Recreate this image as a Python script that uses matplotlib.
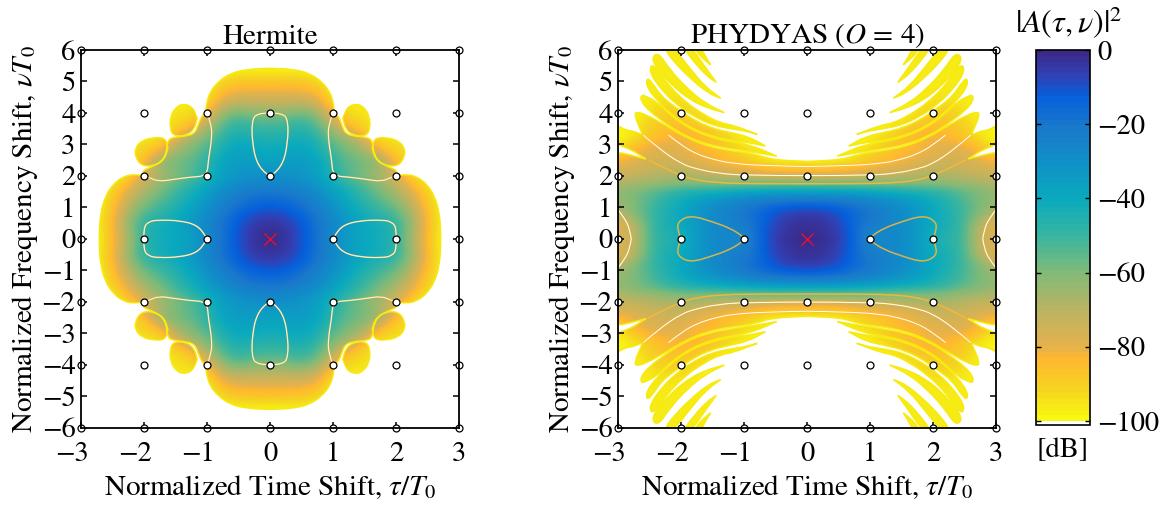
import numpy as np
import matplotlib
matplotlib.use('Agg')
import matplotlib.pyplot as plt
from matplotlib.colors import LinearSegmentedColormap, Normalize
from matplotlib.cm import ScalarMappable
from matplotlib.path import Path
from matplotlib.patches import PathPatch
from matplotlib.transforms import ScaledTranslation

plt.rcParams['font.family'] = ['STIXGeneral', 'DejaVu Sans']
plt.rcParams['mathtext.fontset'] = 'stix'

# colour scale
cmap_db = [0, -6, -12, -20, -30, -40, -50, -60, -70, -80, -84, -92, -100]
cmap_rgb = ['#3b2a8a', '#3240b4', '#0560dc', '#1a78cc', '#1090c8', '#0aaabe', '#38b5a0',
            '#80ba78', '#b8b464', '#e4b24c', '#ffb830', '#f5d420', '#f8f810']

# dB values for one quadrant, rows nu = 0, 0.25 ... 6, columns tau = 0, 0.25 ... 3
hermite_q = [
    [0, -3, -10, -18, -28, -36, -40, -42, -48, -66, -85, -100, -100],
    [-1, -3, -10, -18, -27, -35, -39, -42, -47, -65, -85, -100, -100],
    [-3, -5, -11, -19, -26, -34, -40, -43, -48, -64, -84, -100, -100],
    [-6, -8, -13, -20, -28, -36, -42, -47, -52, -66, -85, -100, -100],
    [-11, -13, -17, -23, -30, -38, -45, -51, -57, -70, -87, -100, -100],
    [-15, -16, -20, -26, -33, -41, -48, -55, -62, -74, -89, -100, -100],
    [-20, -21, -24, -29, -36, -43, -51, -59, -67, -78, -92, -100, -100],
    [-25, -26, -28, -33, -40, -48, -55, -63, -72, -84, -96, -100, -100],
    [-30, -30, -32, -36, -45, -54, -60, -67, -76, -92, -100, -100, -100],
    [-34, -33, -33, -37, -46, -55, -59, -66, -80, -96, -100, -100, -100],
    [-38, -36, -35, -38, -48, -56, -59, -66, -86, -94, -100, -100, -100],
    [-40, -38, -37, -41, -51, -59, -64, -78, -92, -94, -100, -100, -100],
    [-43, -41, -39, -44, -55, -62, -70, -92, -92, -96, -100, -100, -100],
    [-46, -45, -42, -48, -60, -68, -82, -94, -96, -100, -100, -100, -100],
    [-50, -49, -46, -52, -66, -80, -92, -96, -100, -100, -100, -100, -100],
    [-55, -54, -50, -57, -73, -92, -92, -100, -100, -100, -100, -100, -100],
    [-62, -62, -58, -64, -84, -94, -94, -100, -100, -100, -100, -100, -100],
    [-70, -70, -68, -73, -90, -96, -98, -100, -100, -100, -100, -100, -100],
    [-76, -76, -76, -80, -96, -100, -100, -100, -100, -100, -100, -100, -100],
    [-82, -83, -83, -86, -98, -100, -100, -100, -100, -100, -100, -100, -100],
    [-88, -88, -88, -92, -100, -100, -100, -100, -100, -100, -100, -100, -100],
    [-95, -95, -95, -98, -100, -100, -100, -100, -100, -100, -100, -100, -100],
    [-100, -100, -100, -100, -100, -100, -100, -100, -100, -100, -100, -100, -100],
    [-100, -100, -100, -100, -100, -100, -100, -100, -100, -100, -100, -100, -100],
    [-100, -100, -100, -100, -100, -100, -100, -100, -100, -100, -100, -100, -100],
]
phydyas_q = [
    [0, -1, -5, -14, -28, -26, -28, -34, -44, -46, -52, -74, -78],
    [-1, -2, -6, -14, -25, -25, -28, -34, -42, -45, -52, -73, -78],
    [-2, -3, -7, -15, -22, -24, -28, -34, -40, -44, -52, -70, -80],
    [-4, -5, -9, -15, -20, -24, -28, -33, -40, -44, -52, -62, -74],
    [-10, -11, -13, -17, -21, -25, -29, -34, -40, -45, -52, -60, -66],
    [-20, -21, -22, -24, -27, -30, -33, -37, -42, -47, -54, -60, -64],
    [-36, -36, -36, -37, -38, -40, -42, -44, -47, -51, -56, -60, -64],
    [-56, -56, -56, -57, -58, -59, -60, -60, -60, -62, -64, -66, -68],
    [-76, -76, -76, -74, -72, -72, -70, -68, -66, -68, -70, -72, -74],
    [-88, -88, -87, -85, -82, -80, -78, -76, -72, -72, -74, -76, -78],
    [-98, -98, -97, -94, -88, -86, -82, -80, -76, -76, -76, -80, -84],
    [-100, -100, -100, -96, -92, -88, -84, -82, -80, -78, -78, -84, -92],
    [-100, -100, -100, -98, -96, -90, -86, -84, -80, -80, -82, -88, -98],
    [-100, -100, -100, -100, -98, -92, -88, -84, -82, -84, -88, -96, -100],
    [-100, -100, -100, -100, -100, -96, -90, -86, -84, -86, -90, -96, -100],
    [-100, -100, -100, -100, -100, -100, -96, -90, -88, -88, -92, -98, -100],
    [-100, -100, -100, -100, -100, -100, -98, -94, -90, -90, -94, -100, -100],
    [-100, -100, -100, -100, -100, -100, -100, -96, -93, -93, -96, -100, -100],
    [-100, -100, -100, -100, -100, -100, -100, -98, -95, -95, -97, -100, -100],
    [-100, -100, -100, -100, -100, -100, -97, -97, -97, -97, -97, -97, -100],
    [-100, -100, -100, -100, -100, -100, -97, -97, -97, -97, -97, -97, -100],
    [-100, -100, -100, -100, -100, -100, -97, -97, -97, -97, -97, -97, -100],
    [-100, -100, -100, -100, -100, -100, -97, -97, -97, -97, -97, -97, -100],
    [-100, -100, -100, -100, -100, -100, -97, -97, -97, -97, -97, -97, -100],
    [-100, -100, -100, -100, -100, -100, -97, -97, -97, -97, -97, -97, -100],
]

# outlines of the coloured area, upper left quadrant, (tau, nu)
hermite_body = [(0, 5.42), (-0.37, 5.39), (-0.63, 5.26), (-0.82, 5.0), (-0.95, 4.68), (-1.01, 4.31), (-1.02, 4.0),
                (-1.09, 3.89), (-1.14, 3.62), (-1.2, 3.33), (-1.38, 3.25), (-1.58, 3.22), (-1.63, 3.05), (-1.65, 2.72),
                (-1.72, 2.46), (-1.87, 2.29), (-2.03, 2.17), (-1.98, 2.0), (-2.17, 2.05), (-2.33, 1.98), (-2.49, 1.74),
                (-2.62, 1.34), (-2.69, 0.81), (-2.71, 0.28), (-2.71, 0)]
hermite_islands = [
    [(-1.376, 4.3), (-1.225, 4.19), (-1.155, 3.83), (-1.2, 3.48), (-1.32, 3.29), (-1.525, 3.26),
     (-1.59, 3.5), (-1.58, 3.91), (-1.49, 4.19)],
    [(-1.85, 3.22), (-1.66, 3.21), (-1.62, 2.88), (-1.67, 2.53), (-1.82, 2.33), (-2.03, 2.3),
     (-2.14, 2.6), (-2.14, 2.9), (-2.03, 3.13)],
]
phydyas_body = [(0, 2.46), (-0.56, 2.51), (-0.826, 2.7), (-1.196, 2.795), (-1.567, 2.93), (-1.937, 3.23), (-2.254, 3.62),
                (-2.545, 3.94), (-2.72, 4.045), (-2.73, 3.89), (-2.667, 3.57), (-2.6, 3.28), (-2.73, 3.41), (-2.89, 3.46),
                (-2.995, 3.59), (-3.07, 3.62), (-3.07, 3.04), (-2.78, 2.83), (-2.625, 2.615), (-2.52, 2.51), (-2.84, 2.69),
                (-3.07, 2.77), (-3.07, 0)]
phydyas_stripes = [
    [(-1.78, 6.06), (-1.68, 6.06), (-1.61, 5.79), (-1.53, 5.53), (-1.63, 5.69), (-1.72, 5.87)],
    [(-1.96, 6.06), (-1.82, 6.06), (-1.66, 5.58), (-1.44, 4.97), (-1.61, 5.21), (-1.8, 5.64)],
    [(-2.27, 6.06), (-2.11, 6.06), (-1.86, 5.42), (-1.62, 4.84), (-1.37, 4.47), (-1.57, 4.63), (-1.86, 5.11), (-2.12, 5.64)],
    [(-2.36, 5.93), (-2.175, 5.37), (-1.91, 4.79), (-1.62, 4.31), (-1.31, 4.01), (-1.57, 4.15), (-1.86, 4.42),
     (-2.15, 4.89), (-2.36, 5.37), (-2.47, 5.74)],
    [(-2.48, 5.53), (-2.39, 5.44), (-2.23, 4.95), (-1.94, 4.36), (-1.62, 3.92), (-1.355, 3.67), (-1.17, 3.61), (-0.79, 3.32),
     (-0.98, 3.43), (-1.25, 3.51), (-1.51, 3.62), (-1.8, 3.89), (-2.1, 4.31), (-2.33, 4.79), (-2.49, 5.26)],
    [(-2.545, 5.11), (-2.47, 5.0), (-2.31, 4.52), (-2.1, 4.2), (-1.8, 3.78), (-1.51, 3.52), (-1.25, 3.39), (-0.93, 3.25),
     (-0.66, 2.95), (-0.93, 3.06), (-1.25, 3.14), (-1.57, 3.3), (-1.89, 3.57), (-2.175, 3.99), (-2.39, 4.42), (-2.545, 4.84)],
    [(-2.635, 4.58), (-2.545, 4.52), (-2.39, 4.36), (-2.175, 3.94), (-1.885, 3.52), (-1.57, 3.25), (-1.25, 3.09), (-0.93, 3.01),
     (-0.48, 2.63), (-0.83, 2.75), (-1.2, 2.86), (-1.57, 2.99), (-1.94, 3.28), (-2.25, 3.67), (-2.49, 4.04), (-2.635, 4.36)],
]

# null curves inside the coloured area
hermite_nulls = [
    [(-1.0, 4.0), (-0.926, 3.62), (-0.926, 3.14), (-0.979, 2.5), (-1.0, 2.0), (-1.27, 1.96), (-1.53, 1.89), (-1.77, 1.82), (-1.93, 1.96), (-2.0, 2.0)],
    [(0, 4.0), (-0.21, 4.0), (-0.29, 3.73), (-0.28, 3.04), (-0.21, 2.4), (-0.05, 2.03), (0, 2.0)],
    [(-2.0, 0), (-2.01, 0.34), (-1.93, 0.55), (-1.77, 0.6), (-1.43, 0.58), (-1.16, 0.44), (-1.03, 0.12), (-1.0, 0)],
]
phydyas_nulls = [
    [(-2.2, 3.3), (-1.99, 2.96), (-1.725, 2.67), (-1.46, 2.51), (-1.196, 2.4), (-0.667, 2.32), (0, 2.3)],
    [(-2.6, 3.3), (-2.36, 2.88), (-1.99, 2.37), (-1.725, 2.21), (-1.46, 2.1), (-1.01, 2.01), (0, 2.01)],
    [(-2.52, 2.51), (-2.25, 2.24), (-2.0, 2.01), (-1.725, 1.85), (-1.355, 1.78), (-0.93, 1.75), (0, 1.75)],
    [(-2.0, 0), (-2.07, 0.34), (-2.02, 0.6), (-1.83, 0.74), (-1.51, 0.55), (-1.22, 0.34), (-1.01, 0.07), (-1.0, 0)],
    [(-3.0, 0.92), (-2.89, 0.65), (-2.81, 0.28), (-2.79, 0)],
]
hermite_null_core = [0.85, 0.85, 0.85]
phydyas_null_core = [1.0, 1.0, 0.0, 0.0, 1.0]

tau_lattice = [-3, -2, -1, 0, 1, 2, 3]
nu_lattice = [-6, -4, -2, 0, 2, 4, 6]
xticks = [-3, -2, -1, 0, 1, 2, 3]
yticks = [-6, -5, -4, -3, -2, -1, 0, 1, 2, 3, 4, 5, 6]
cbar_ticks = [0, -20, -40, -60, -80, -100]


def mirror_grid(q):
    q = np.array(q, dtype=float)
    full = np.vstack([q[:0:-1], q])
    return np.hstack([full[:, :0:-1], full])


def closed_smooth(pts):
    # closed quadratic spline through the midpoints
    pts = np.array(pts, dtype=float)
    n = len(pts)
    verts = [(pts[-1] + pts[0]) / 2]
    codes = [Path.MOVETO]
    for i in range(n):
        verts += [pts[i], (pts[i] + pts[(i + 1) % n]) / 2]
        codes += [Path.CURVE3, Path.CURVE3]
    return Path(verts, codes)


def open_smooth(pts):
    pts = np.array(pts, dtype=float)
    verts = [pts[0]]
    codes = [Path.MOVETO]
    for i in range(1, len(pts) - 1):
        end = (pts[i] + pts[i + 1]) / 2 if i < len(pts) - 2 else pts[i + 1]
        verts += [pts[i], end]
        codes += [Path.CURVE3, Path.CURVE3]
    return Path(verts, codes)


def body_loop(q2):
    # one quadrant outline -> whole closed outline
    a = [(t, n) for t, n in q2]
    b = [(t, -n) for t, n in q2[::-1]]
    c = [(-t, -n) for t, n in q2]
    d = [(-t, n) for t, n in q2[::-1]]
    return a + b + c + d


def four_copies(pts):
    return [[(st * t, sn * n) for t, n in pts] for st in (1, -1) for sn in (1, -1)]


def sharp_tip(pts):
    # repeat the point nearest tau = 0 so the spline keeps the pointed end
    k = int(np.argmin([abs(t) for t, n in pts]))
    return pts[:k + 1] + [pts[k]] + pts[k + 1:]


def draw_panel(ax, grid_q, body, pieces, nulls, core_alpha, edge_lw):
    im = ax.imshow(mirror_grid(grid_q), extent=[-3.125, 3.125, -6.125, 6.125], origin='lower', aspect='auto',
                   cmap=cmap_img, norm=norm, interpolation='bicubic', interpolation_stage='data', zorder=1)
    paths = [closed_smooth(body_loop(body))]
    for p in pieces:
        paths += [closed_smooth(sharp_tip(c)) for c in four_copies(p)]
    shape = Path.make_compound_path(*paths)
    im.set_clip_path(PathPatch(shape, transform=ax.transData))
    ax.add_patch(PathPatch(shape, fc='none', ec='#f6ea10', lw=edge_lw, zorder=1.2))
    for curve, a in zip(nulls, core_alpha):
        for c in four_copies(curve):
            ax.add_patch(PathPatch(open_smooth(c), fc='none', ec='#fdb933', lw=1.1, alpha=0.85, zorder=1.4))
            if a > 0:
                ax.add_patch(PathPatch(open_smooth(c), fc='none', ec='white', lw=0.7, alpha=a, zorder=1.5))
    tt, nn = np.meshgrid(tau_lattice, nu_lattice)
    keep = (tt != 0) | (nn != 0)
    ax.plot(tt[keep], nn[keep], ls='none', marker='o', ms=5, mfc='white', mec='black', mew=0.9,
            clip_on=False, zorder=2.4)
    ax.plot([0], [0], ls='none', marker='x', ms=8, mec='#e8102a', mew=1.0, zorder=3)
    ax.set_xlim(-3, 3)
    ax.set_ylim(-6, 6)
    ax.set_xticks(xticks)
    ax.set_yticks(yticks)
    ax.tick_params(direction='in', top=True, right=True, length=4, width=1.1, labelsize=20.5)
    ax.tick_params(axis='x', pad=10)
    ax.tick_params(axis='y', pad=4)
    # the digit, not the minus sign, sits under the tick
    shift = ScaledTranslation(-6.5 / 72, 0, fig.dpi_scale_trans)
    for val, lab in zip(xticks, ax.get_xticklabels()):
        if val < 0:
            lab.set_transform(lab.get_transform() + shift)
    for s in ax.spines.values():
        s.set_linewidth(1.3)
    ax.set_xlabel(r'Normalized Time Shift, $\tau/T_0$', fontsize=21, labelpad=5)
    ax.set_ylabel(r'Normalized Frequency Shift, $\nu T_0$', fontsize=21, labelpad=1)


stops = list(zip([(100 + d) / 100 for d in cmap_db[::-1]], cmap_rgb[::-1]))
cmap_img = LinearSegmentedColormap.from_list('db', stops, N=256)
cmap_bar = LinearSegmentedColormap.from_list('db64', stops, N=64)
cmap_bar.set_under('white')
norm = Normalize(-100, 0)

W, H = 1166, 511
fig = plt.figure(figsize=(W / 100, H / 100), dpi=100)
ax1 = fig.add_axes([81 / W, (H - 427.7) / H, 378 / W, 377.7 / H])
ax2 = fig.add_axes([618 / W, (H - 427.7) / H, 378 / W, 377.7 / H])
cax = fig.add_axes([1036 / W, (H - 424.5) / H, 54 / W, 374.5 / H])

draw_panel(ax1, hermite_q, hermite_body, hermite_islands, hermite_nulls, hermite_null_core, 1.0)
draw_panel(ax2, phydyas_q, phydyas_body, phydyas_stripes, phydyas_nulls, phydyas_null_core, 1.1)
ax1.set_title('Hermite', fontsize=21, pad=4)
ax2.set_title('PHYDYAS ($O$ = 4)', fontsize=21, pad=5)

cb = fig.colorbar(ScalarMappable(norm=norm, cmap=cmap_bar), cax=cax, extend='min', extendfrac=0.009, extendrect=True)
cb.set_ticks(cbar_ticks)
cb.ax.tick_params(direction='in', left=True, right=True, length=3.5, width=1.0, labelsize=20.5, pad=5)
cb.outline.set_linewidth(1.2)
cax.text(0.61, 1.025, r'$|A(\tau,\nu)|^2$', transform=cax.transAxes, ha='center', va='bottom', fontsize=23)
cax.text(0.5, -0.045, '[dB]', transform=cax.transAxes, ha='center', va='top', fontsize=20.5)

fig.savefig('out.png', dpi=100)
